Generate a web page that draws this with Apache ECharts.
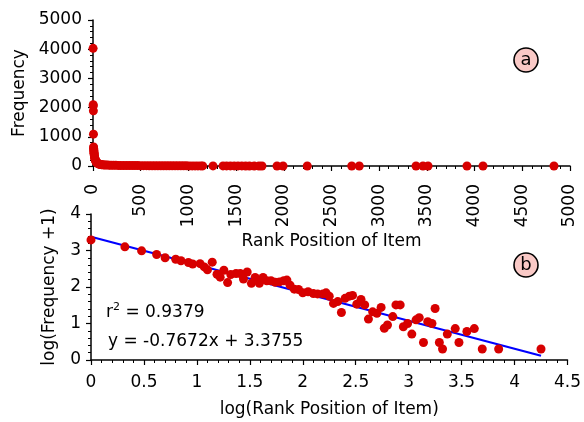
<!DOCTYPE html>
<html><head><meta charset="utf-8">
<script src="https://cdn.jsdelivr.net/npm/echarts@6/dist/echarts.min.js"></script>
<style>html,body{margin:0;padding:0;background:#fff}#c{width:584px;height:422px}</style>
</head><body><div id="c"></div>
<script>
// Panel (a): rank position vs frequency (linear)
const topRanks = [1,2,3,4,5,6,7,8,9,10,11,12,14,16,18,20,23,26,30,34,38,43,48,55,62,70,80,90,100,115,130,150,170,190,215,240,265,290,320,350,380,410,440,470,500,530,560,590,620,650,680,710,740,770,800,830,860,890,920,950,980,1010,1040,1070,1100,1130,1150,1258,1363,1400,1440,1480,1520,1560,1600,1640,1690,1740,1771,1929,1992,2246,2712,2791,3386,3459,3512,3920,4088,4832];
const topFreqs = [4030,2100,2060,1890,1090,650,600,560,520,480,440,410,360,320,280,250,220,190,160,140,120,105,95,80,70,60,52,46,42,38,34,30,28,26,24,22,20,19,18,17,16,15,14,13,12,12,11,10,10,9,9,8,8,7,7,6,6,6,5,5,5,4,4,4,3,3,3,2,2,2,2,2,2,2,1,1,1,1,1,1,1,1,1,1,1,1,1,1,1,1];
// Panel (b): log-log
const logRanks = [0,0.32,0.478,0.62,0.70,0.80,0.85,0.92,0.96,1.03,1.07,1.10,1.145,1.19,1.22,1.255,1.29,1.32,1.37,1.41,1.44,1.475,1.515,1.55,1.59,1.625,1.66,1.70,1.74,1.78,1.82,1.85,1.88,1.92,1.96,2.00,2.05,2.10,2.14,2.19,2.22,2.25,2.29,2.33,2.365,2.40,2.44,2.47,2.51,2.55,2.585,2.62,2.66,2.70,2.74,2.77,2.80,2.85,2.88,2.92,2.95,2.99,3.03,3.07,3.10,3.14,3.18,3.22,3.25,3.29,3.32,3.365,3.44,3.475,3.55,3.62,3.695,3.85,4.25];
const logFreqs = [3.29,3.10,2.99,2.89,2.80,2.76,2.72,2.67,2.63,2.64,2.55,2.47,2.68,2.35,2.27,2.46,2.12,2.34,2.37,2.37,2.22,2.41,2.10,2.26,2.10,2.26,2.17,2.17,2.13,2.14,2.17,2.19,2.05,1.94,1.93,1.84,1.87,1.82,1.81,1.81,1.84,1.75,1.55,1.60,1.30,1.69,1.75,1.77,1.53,1.66,1.51,1.12,1.32,1.28,1.44,0.87,0.96,1.19,1.51,1.51,0.91,1.00,0.71,1.10,1.16,0.48,1.05,1.00,1.41,0.48,0.30,0.71,0.86,0.48,0.78,0.86,0.30,0.30,0.30];
const slope = -0.7672, intercept = 3.3755;
const fitRange = [0, 4.25];
const eqText1 = 'r{s|2} = 0.9379';
const eqText2 = 'y = -0.7672x + 3.3755';

const FONT = 'DejaVu Sans';
const FS = 17;
const RED = '#d70000';
const plain = v => String(v);

function axisCommon(extra) {
  return Object.assign({
    axisLine: {show: true, onZero: false, lineStyle: {color: '#000', width: 1.5}},
    axisTick: {show: true, length: 5, lineStyle: {color: '#000', width: 1.2}},
    minorTick: {show: true, splitNumber: 5, length: 3, lineStyle: {color: '#000', width: 1}},
    splitLine: {show: false},
    nameTextStyle: {color: '#000', fontFamily: FONT, fontSize: FS},
    nameLocation: 'middle'
  }, extra);
}

const chart = echarts.init(document.getElementById('c'));
chart.setOption({
  backgroundColor: '#fff',
  animation: false,
  grid: [
    {left: 93, top: 20, width: 477, height: 146},
    {left: 91, top: 214, width: 477, height: 146}
  ],
  xAxis: [
    axisCommon({gridIndex: 0, type: 'value', min: 0, max: 5000, interval: 500,
      name: 'Rank Position of Item', nameGap: 67,
      axisLabel: {color: '#000', fontFamily: FONT, fontSize: FS, rotate: 90, margin: 18, formatter: plain}}),
    axisCommon({gridIndex: 1, type: 'value', min: 0, max: 4.5, interval: 0.5,
      name: 'log(Rank Position of Item)', nameGap: 41,
      axisLabel: {color: '#000', fontFamily: FONT, fontSize: FS, margin: 14, formatter: plain}})
  ],
  yAxis: [
    axisCommon({gridIndex: 0, type: 'value', min: 0, max: 5000, interval: 1000,
      name: 'Frequency', nameGap: 65, nameRotate: 90,
      axisLabel: {color: '#000', fontFamily: FONT, fontSize: FS, margin: 11, formatter: plain}}),
    axisCommon({gridIndex: 1, type: 'value', min: 0, max: 4, interval: 1,
      name: 'log(Frequency +1)', nameGap: 33, nameRotate: 90,
      axisLabel: {color: '#000', fontFamily: FONT, fontSize: FS, margin: 10, formatter: plain}})
  ],
  series: [
    {type: 'scatter', xAxisIndex: 0, yAxisIndex: 0, symbolSize: 9, z: 3,
      itemStyle: {color: RED, opacity: 1},
      data: topRanks.map((r, i) => [r, topFreqs[i]])},
    {type: 'line', xAxisIndex: 1, yAxisIndex: 1, symbol: 'none', z: 2,
      lineStyle: {color: '#0000ff', width: 2.2},
      data: fitRange.map(x => [x, slope * x + intercept])},
    {type: 'scatter', xAxisIndex: 1, yAxisIndex: 1, symbolSize: 9, z: 3,
      itemStyle: {color: RED, opacity: 1},
      data: logRanks.map((r, i) => [r, logFreqs[i]])}
  ],
  graphic: [
    {type: 'circle', shape: {cx: 526, cy: 60, r: 12}, style: {fill: '#f9c9c6', stroke: '#000', lineWidth: 1.6}, z: 10},
    {type: 'text', x: 526, y: 60, style: {text: 'a', font: '18px "' + FONT + '"', fill: '#000', align: 'center', verticalAlign: 'middle'}, z: 11},
    {type: 'circle', shape: {cx: 526, cy: 265, r: 12}, style: {fill: '#f9c9c6', stroke: '#000', lineWidth: 1.6}, z: 10},
    {type: 'text', x: 526, y: 265, style: {text: 'b', font: '18px "' + FONT + '"', fill: '#000', align: 'center', verticalAlign: 'middle'}, z: 11},
    {type: 'text', x: 106, y: 313, z: 11, style: {text: eqText1, fontFamily: FONT, fontSize: FS, fill: '#000', verticalAlign: 'middle', lineHeight: 22,
      rich: {s: {fontFamily: FONT, fontSize: 11, lineHeight: 22, verticalAlign: 'top', padding: [0, 0, 0, 0]}}}},
    {type: 'text', x: 108, y: 342, z: 11, style: {text: eqText2, fontFamily: FONT, fontSize: FS, fill: '#000', verticalAlign: 'middle'}}
  ]
});
</script></body></html>
